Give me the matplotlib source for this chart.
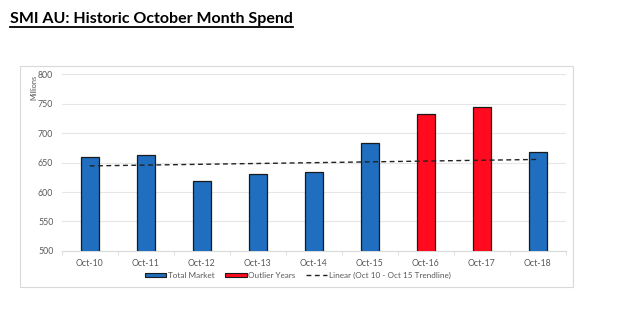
import matplotlib.pyplot as plt
import numpy as np
from matplotlib.patches import Rectangle, Patch
from matplotlib.lines import Line2D

months = ["Oct-10", "Oct-11", "Oct-12", "Oct-13", "Oct-14", "Oct-15", "Oct-16", "Oct-17", "Oct-18"]
spend = [659, 662, 618, 630, 634, 683, 732, 744, 668]
outlier = [False, False, False, False, False, False, True, True, False]
trend_n = 6  # Oct 10 - Oct 15

blue = "#1f6ebf"
red = "#ff0a1e"
grey_txt = "#595959"

plt.rcParams["font.family"] = ["Lato", "DejaVu Sans"]

fig = plt.figure(figsize=(6.38, 3.32), dpi=100)
ax = fig.add_axes([0.0967, 0.244, 0.790, 0.533])

x = np.arange(len(months))
colors = [red if o else blue for o in outlier]
ax.bar(x, spend, width=0.32, color=colors, edgecolor="#1a1a1a", linewidth=0.9, zorder=3)

# trendline fitted on Oct 10 - Oct 15, drawn across all years
k, b = np.polyfit(x[:trend_n], spend[:trend_n], 1)
ax.plot([x[0], x[-1]], [b + k * x[0], b + k * x[-1]], color="#222222", ls=(0, (3.5, 2.5)), lw=1.0, zorder=4)

ax.set_xlim(-0.5, len(months) - 0.5)
ax.set_ylim(500, 800)
ax.set_yticks(range(500, 801, 50))
ax.set_xticks(x)
ax.set_xticklabels(months)
ax.set_xticks(np.arange(-0.5, len(months), 1), minor=True)
ax.tick_params(axis="x", which="major", length=0, labelsize=6.3, labelcolor=grey_txt, pad=6)
ax.tick_params(axis="x", which="minor", length=3, color="#d9d9d9")
ax.tick_params(axis="y", length=0, labelsize=6.3, labelcolor=grey_txt, pad=6)
ax.grid(axis="y", color="#e6e6e6", lw=0.8, zorder=0)
for s in ["top", "right", "left"]:
    ax.spines[s].set_visible(False)
ax.spines["bottom"].set_color("#d9d9d9")

fig.text(0.053, 0.775, "Millions", rotation=90, fontsize=5.3, color=grey_txt, ha="center", va="top")

handles = [
    Patch(facecolor=blue, edgecolor="#1a1a1a", lw=0.8),
    Patch(facecolor=red, edgecolor="#1a1a1a", lw=0.8),
    Line2D([0], [0], color="#222222", ls=(0, (3.5, 2.5)), lw=1.0),
]
labels = ["Total Market", "Outlier Years", "Linear (Oct 10 - Oct 15 Trendline)"]
fig.legend(handles, labels, loc="center", bbox_to_anchor=(0.467, 0.17), ncol=3, frameon=False,
           fontsize=5.9, labelcolor=grey_txt, handlelength=2.6, handleheight=0.5,
           handletextpad=0.2, columnspacing=1.3)

# chart frame
fig.patches.append(Rectangle((0.031, 0.136), 0.867, 0.665, transform=fig.transFigure,
                             fill=False, edgecolor="#d9d9d9", lw=0.8))

title = fig.text(0.0157, 0.965, "SMI AU: Historic October Month Spend", fontsize=11.5,
                 fontweight="bold", color="black", ha="left", va="top")
fig.canvas.draw()
bb = title.get_window_extent().transformed(fig.transFigure.inverted())
fig.add_artist(Line2D([bb.x0, bb.x1], [bb.y0 - 0.004, bb.y0 - 0.004], color="black", lw=1.3,
                      transform=fig.transFigure))

fig.savefig("out.png", dpi=100)
